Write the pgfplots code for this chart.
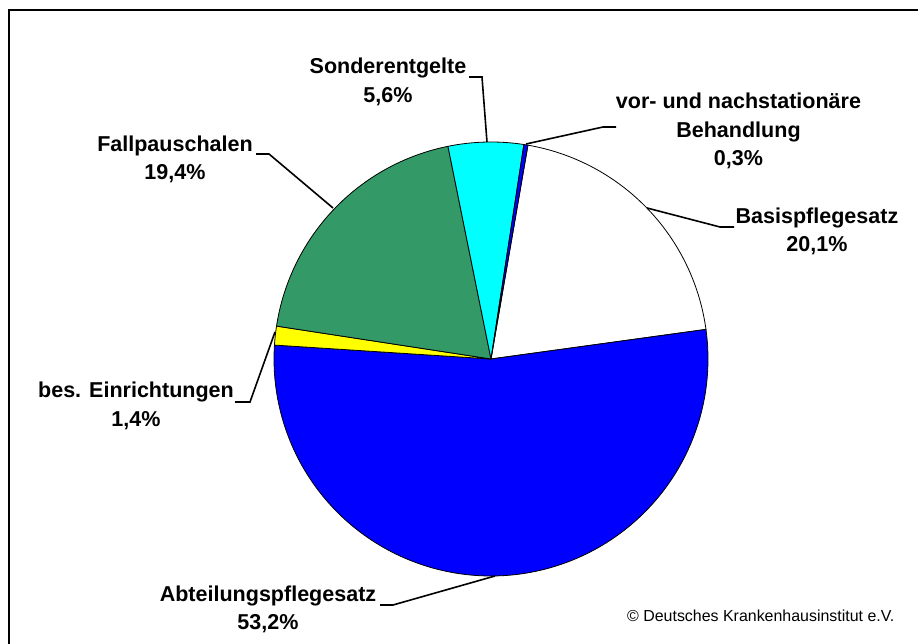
\documentclass[border=0pt]{standalone}
\usepackage{pgfplots}
\pgfplotsset{compat=1.18}
\usepgfplotslibrary{polar}
\usepackage{fontspec}
\setmainfont{Liberation Sans}
\definecolor{pgreen}{RGB}{51,153,102}
\definecolor{pblue}{RGB}{0,0,255}
\definecolor{pyellow}{RGB}{255,255,0}
\definecolor{pcyan}{RGB}{0,255,255}
\begin{document}
\begin{tikzpicture}
\useasboundingbox (0,0) rectangle (918bp,644bp);
% shares in percent
\def\pBasis{20.1}\def\pAbt{53.2}\def\pBes{1.4}\def\pFall{19.4}\def\pSonder{5.6}\def\pVor{0.3}
\pgfmathsetmacro\aA{80.2}
\pgfmathsetmacro\aB{\aA-3.6*\pBasis}
\pgfmathsetmacro\aC{\aB-3.6*\pAbt}
\pgfmathsetmacro\aD{\aC-3.6*\pBes}
\pgfmathsetmacro\aE{\aD-3.6*\pFall}
\pgfmathsetmacro\aF{\aE-3.6*\pSonder}
\pgfmathsetmacro\aG{\aF-3.6*\pVor}
\tikzset{
  lab/.style={font=\fontsize{21.6}{25}\selectfont\bfseries, anchor=base, inner sep=0pt},
  lead/.style={line width=1.6bp, line join=miter},
  wedge/.style={no markers, draw=black, line width=0.8bp},
}
\begin{polaraxis}[at={(491bp,285bp)}, anchor=center, hide axis, scale only axis,
  width=434bp, height=434bp, xmin=0, xmax=360, ymin=0, ymax=1, clip=false]
\addplot[wedge, fill=white, domain=\aB:\aA, samples=80] {1} -- (axis cs:0,0) -- cycle;
\addplot[wedge, fill=pblue, domain=\aC:\aB, samples=150] {1} -- (axis cs:0,0) -- cycle;
\addplot[wedge, fill=pyellow, domain=\aD:\aC, samples=10] {1} -- (axis cs:0,0) -- cycle;
\addplot[wedge, fill=pgreen, domain=\aE:\aD, samples=80] {1} -- (axis cs:0,0) -- cycle;
\addplot[wedge, fill=pcyan, domain=\aF:\aE, samples=30] {1} -- (axis cs:0,0) -- cycle;
\addplot[wedge, fill=pblue, domain=\aG:\aF, samples=5] {1} -- (axis cs:0,0) -- cycle;
\end{polaraxis}
\begin{scope}[shift={(0bp,644bp)}, x=1bp, y=-1bp]
% frame (right and bottom edges lie outside the picture)
\draw[line width=2.6bp] (9,700) -- (9,10) -- (1000,10);
% leaders
\draw[lead] (469,77) -- (482,77) -- (487,142);
\draw[lead] (616,127) -- (603,127) -- (526,144);
\draw[lead] (734,227) -- (720,227) -- (647,208);
\draw[lead] (256,154) -- (269,154) -- (333,208);
\draw[lead] (235,402) -- (250,402) -- (275,332);
\draw[lead] (380,605) -- (393,605) -- (495,576);
% labels
\node[lab] at (388,74) {Sonderentgelte};
\node[lab] at (388,103) {5,6\%};
\node[lab] at (738.5,109) {vor- und nachstationäre};
\node[lab] at (738.5,138) {Behandlung};
\node[lab] at (738.5,166) {0,3\%};
\node[lab] at (175,152) {Fallpauschalen};
\node[lab] at (175,180) {19,4\%};
\node[lab] at (817,224) {Basispflegesatz};
\node[lab] at (817,252) {20,1\%};
\node[lab] at (136,398) {bes. Einrichtungen};
\node[lab] at (136,427) {1,4\%};
\node[lab] at (268,602) {Abteilungspflegesatz};
\node[lab] at (268,630) {53,2\%};
\node[anchor=base west, inner sep=0pt, font=\fontsize{16}{19}\selectfont] at (627,622) {© Deutsches Krankenhausinstitut e.V.};
\end{scope}
\end{tikzpicture}
\end{document}
